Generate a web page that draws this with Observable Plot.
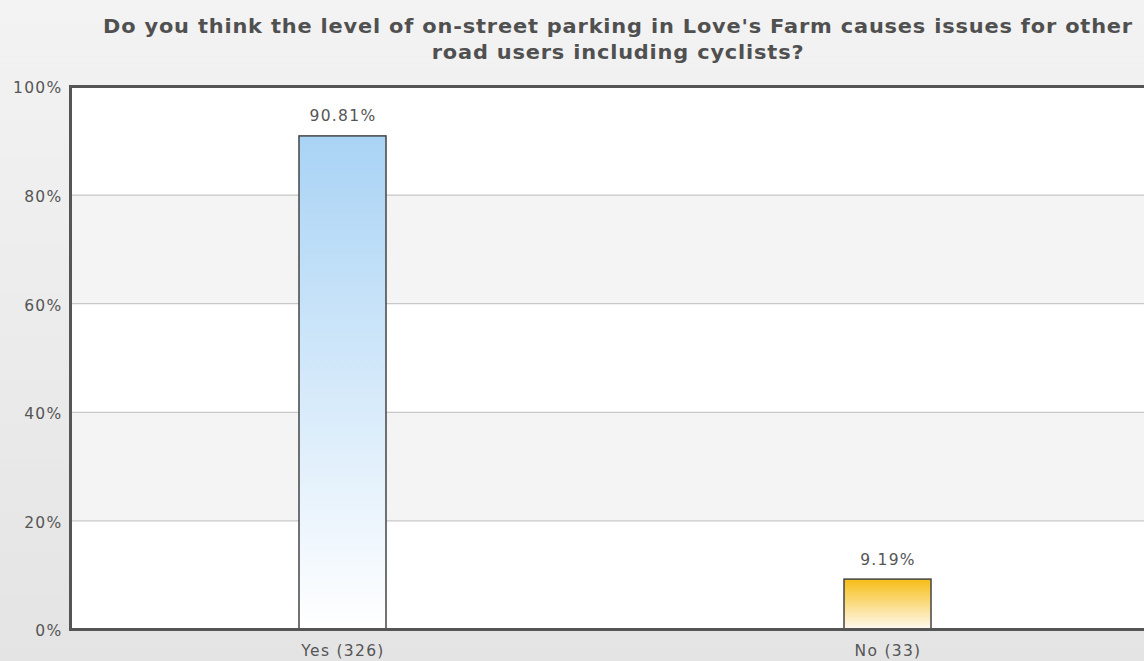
<!DOCTYPE html>
<html><head><meta charset="utf-8">
<script src="https://cdn.jsdelivr.net/npm/d3@7"></script>
<script src="https://cdn.jsdelivr.net/npm/@observablehq/plot@0.6"></script>
<style>
html,body{margin:0;padding:0;overflow:hidden;width:1144px;height:661px;}
body{background:linear-gradient(#f3f3f3,#e4e4e4);font-family:"DejaVu Sans",Verdana,sans-serif;}
#wrap{position:relative;width:1144px;height:661px;overflow:hidden;}
#title{position:absolute;left:0;top:13px;width:1236px;text-align:center;font-weight:bold;font-size:19px;letter-spacing:0.75px;line-height:26px;color:#505050;font-family:"DejaVu Sans",Verdana,sans-serif;transform:scaleX(1.1);transform-origin:618px 0;}
#chart{position:absolute;left:0;top:0;width:1160px;}
#chart svg text{letter-spacing:1.3px;}
</style></head><body>
<div id="wrap"><div id="chart"></div><div id="title">Do you think the level of on-street parking in Love's Farm causes issues for other<br>road users including cyclists?</div></div>
<script>
const categories = ["Yes (326)", "No (33)"];
const percents = [90.81, 9.19];
const gradientIds = ["gradYes", "gradNo"];
const gradientStops = [["#a9d3f5", "#ffffff"], ["#f6bd16", "#fffaf0"]];
const yTicks = [0, 20, 40, 60, 80, 100];
const greyBands = [[20, 40], [60, 80]];
const gridLines = [20, 40, 60, 80];

const data = categories.map((c, i) => ({
  category: c,
  value: percents[i],
  fill: `url(#${gradientIds[i]})`,
  label: percents[i].toFixed(2) + "%"
}));
const bandData = greyBands.map(([a, b]) => ({y1: a, y2: b}));

const plot = Plot.plot({
  width: 1160, height: 661,
  marginTop: 86, marginBottom: 32, marginLeft: 70, marginRight: 0,
  style: {background: "transparent", color: "#555", fontFamily: "DejaVu Sans, Verdana, sans-serif", fontSize: "15.5px", maxWidth: "none"},
  x: {domain: categories, paddingInner: 0.84, paddingOuter: 0.42, label: null},
  y: {domain: [0, 100], label: null},
  color: {type: "identity"},
  marks: [
    Plot.rect([{y1: 0, y2: 100}], {y1: "y1", y2: "y2", fill: "white"}),
    Plot.rect(bandData, {y1: "y1", y2: "y2", fill: "#f4f4f4"}),
    Plot.ruleY(gridLines, {stroke: "#c8c8c8", strokeWidth: 1.2}),
    Plot.barY(data, {x: "category", y: "value", fill: "fill", stroke: "#444", strokeWidth: 1.5}),
    Plot.text(data, {x: "category", y: "value", text: "label", dy: -20, fill: "#555", fontSize: 15.5}),
    Plot.frame({stroke: "#555", strokeWidth: 3}),
    Plot.axisY({ticks: yTicks, tickFormat: d => d + "%", tickSize: 0, tickPadding: 8, dy: 2, label: null}),
    Plot.axisX({tickSize: 0, tickPadding: 15, label: null})
  ]
});

const svg = d3.select(plot);
const defs = svg.insert("defs", ":first-child");
gradientIds.forEach((id, i) => {
  const g = defs.append("linearGradient").attr("id", id)
    .attr("x1", 0).attr("y1", 0).attr("x2", 0).attr("y2", 1);
  g.append("stop").attr("offset", "0%").attr("stop-color", gradientStops[i][0]);
  g.append("stop").attr("offset", "100%").attr("stop-color", gradientStops[i][1]);
});
document.getElementById("chart").appendChild(plot);
</script>
</body></html>
